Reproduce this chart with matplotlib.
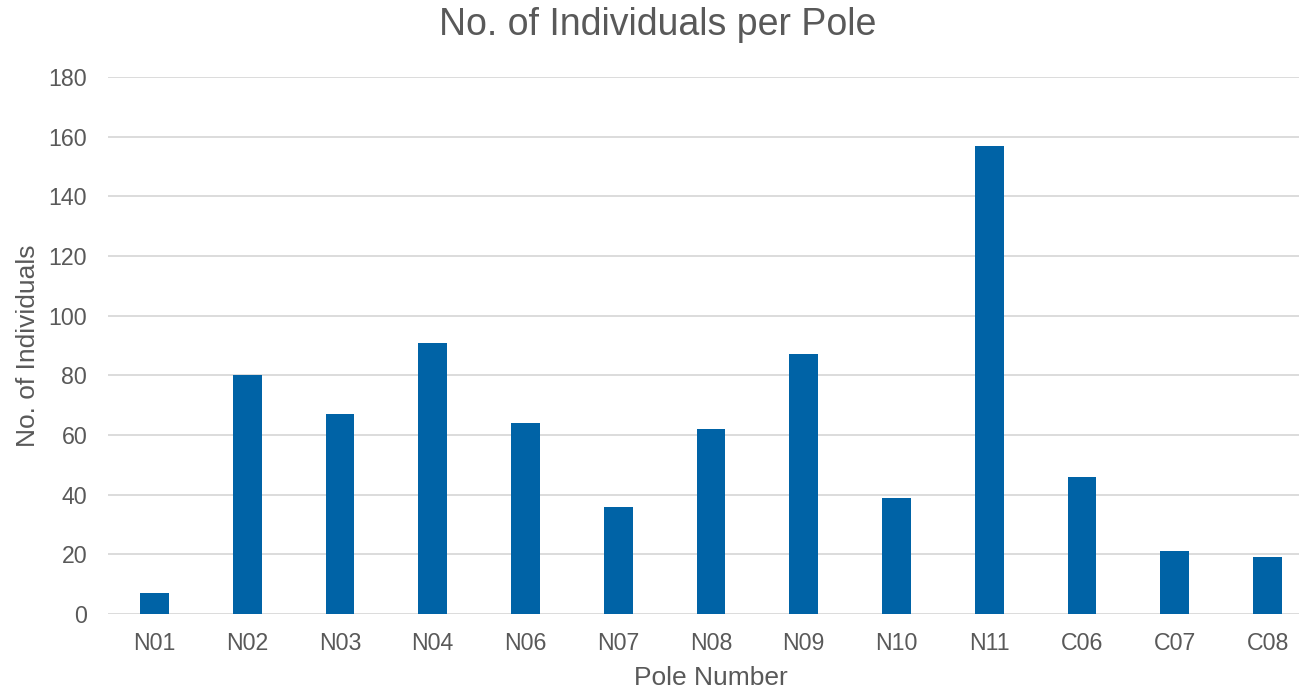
import matplotlib
matplotlib.use("Agg")
import matplotlib.pyplot as plt
import numpy as np

poles = ["N01", "N02", "N03", "N04", "N06", "N07", "N08", "N09", "N10", "N11", "C06", "C07", "C08"]
individuals = [7, 80, 67, 91, 64, 36, 62, 87, 39, 157, 46, 21, 19]

grey = "#595959"
plt.rcParams["font.family"] = ["Liberation Sans", "DejaVu Sans"]

fig = plt.figure(figsize=(12.99, 6.90), dpi=100)
# plot area runs a bit past the right edge, like the original
ax = fig.add_axes([108 / 1299, 76 / 690, 1206 / 1299, 537 / 690])

x = np.arange(len(poles))
ax.bar(x, individuals, width=0.31, color="#0063a6", zorder=3)

ax.set_xlim(-0.5, len(poles) - 0.5)
ax.set_ylim(0, 180)
ax.set_yticks(range(0, 181, 20))
ax.set_xticks(x)
ax.set_xticklabels(poles)

ax.grid(axis="y", color="#d9d9d9", linewidth=1.3, zorder=0)
for s in ax.spines.values():
    s.set_visible(False)
ax.tick_params(axis="both", length=0, labelsize=16.7, colors=grey)
ax.tick_params(axis="y", pad=15)
ax.tick_params(axis="x", pad=13)

ax.set_xlabel("Pole Number", fontsize=19, color=grey)
ax.set_ylabel("No. of Individuals", fontsize=19, color=grey)
ax.xaxis.set_label_coords(0.5, -0.097)
ax.yaxis.set_label_coords(-0.056, 0.5)
fig.text(658 / 1299, 1 - 25 / 690, "No. of Individuals per Pole", fontsize=27,
         color=grey, ha="center", va="center")

fig.savefig("out.png", dpi=100)
